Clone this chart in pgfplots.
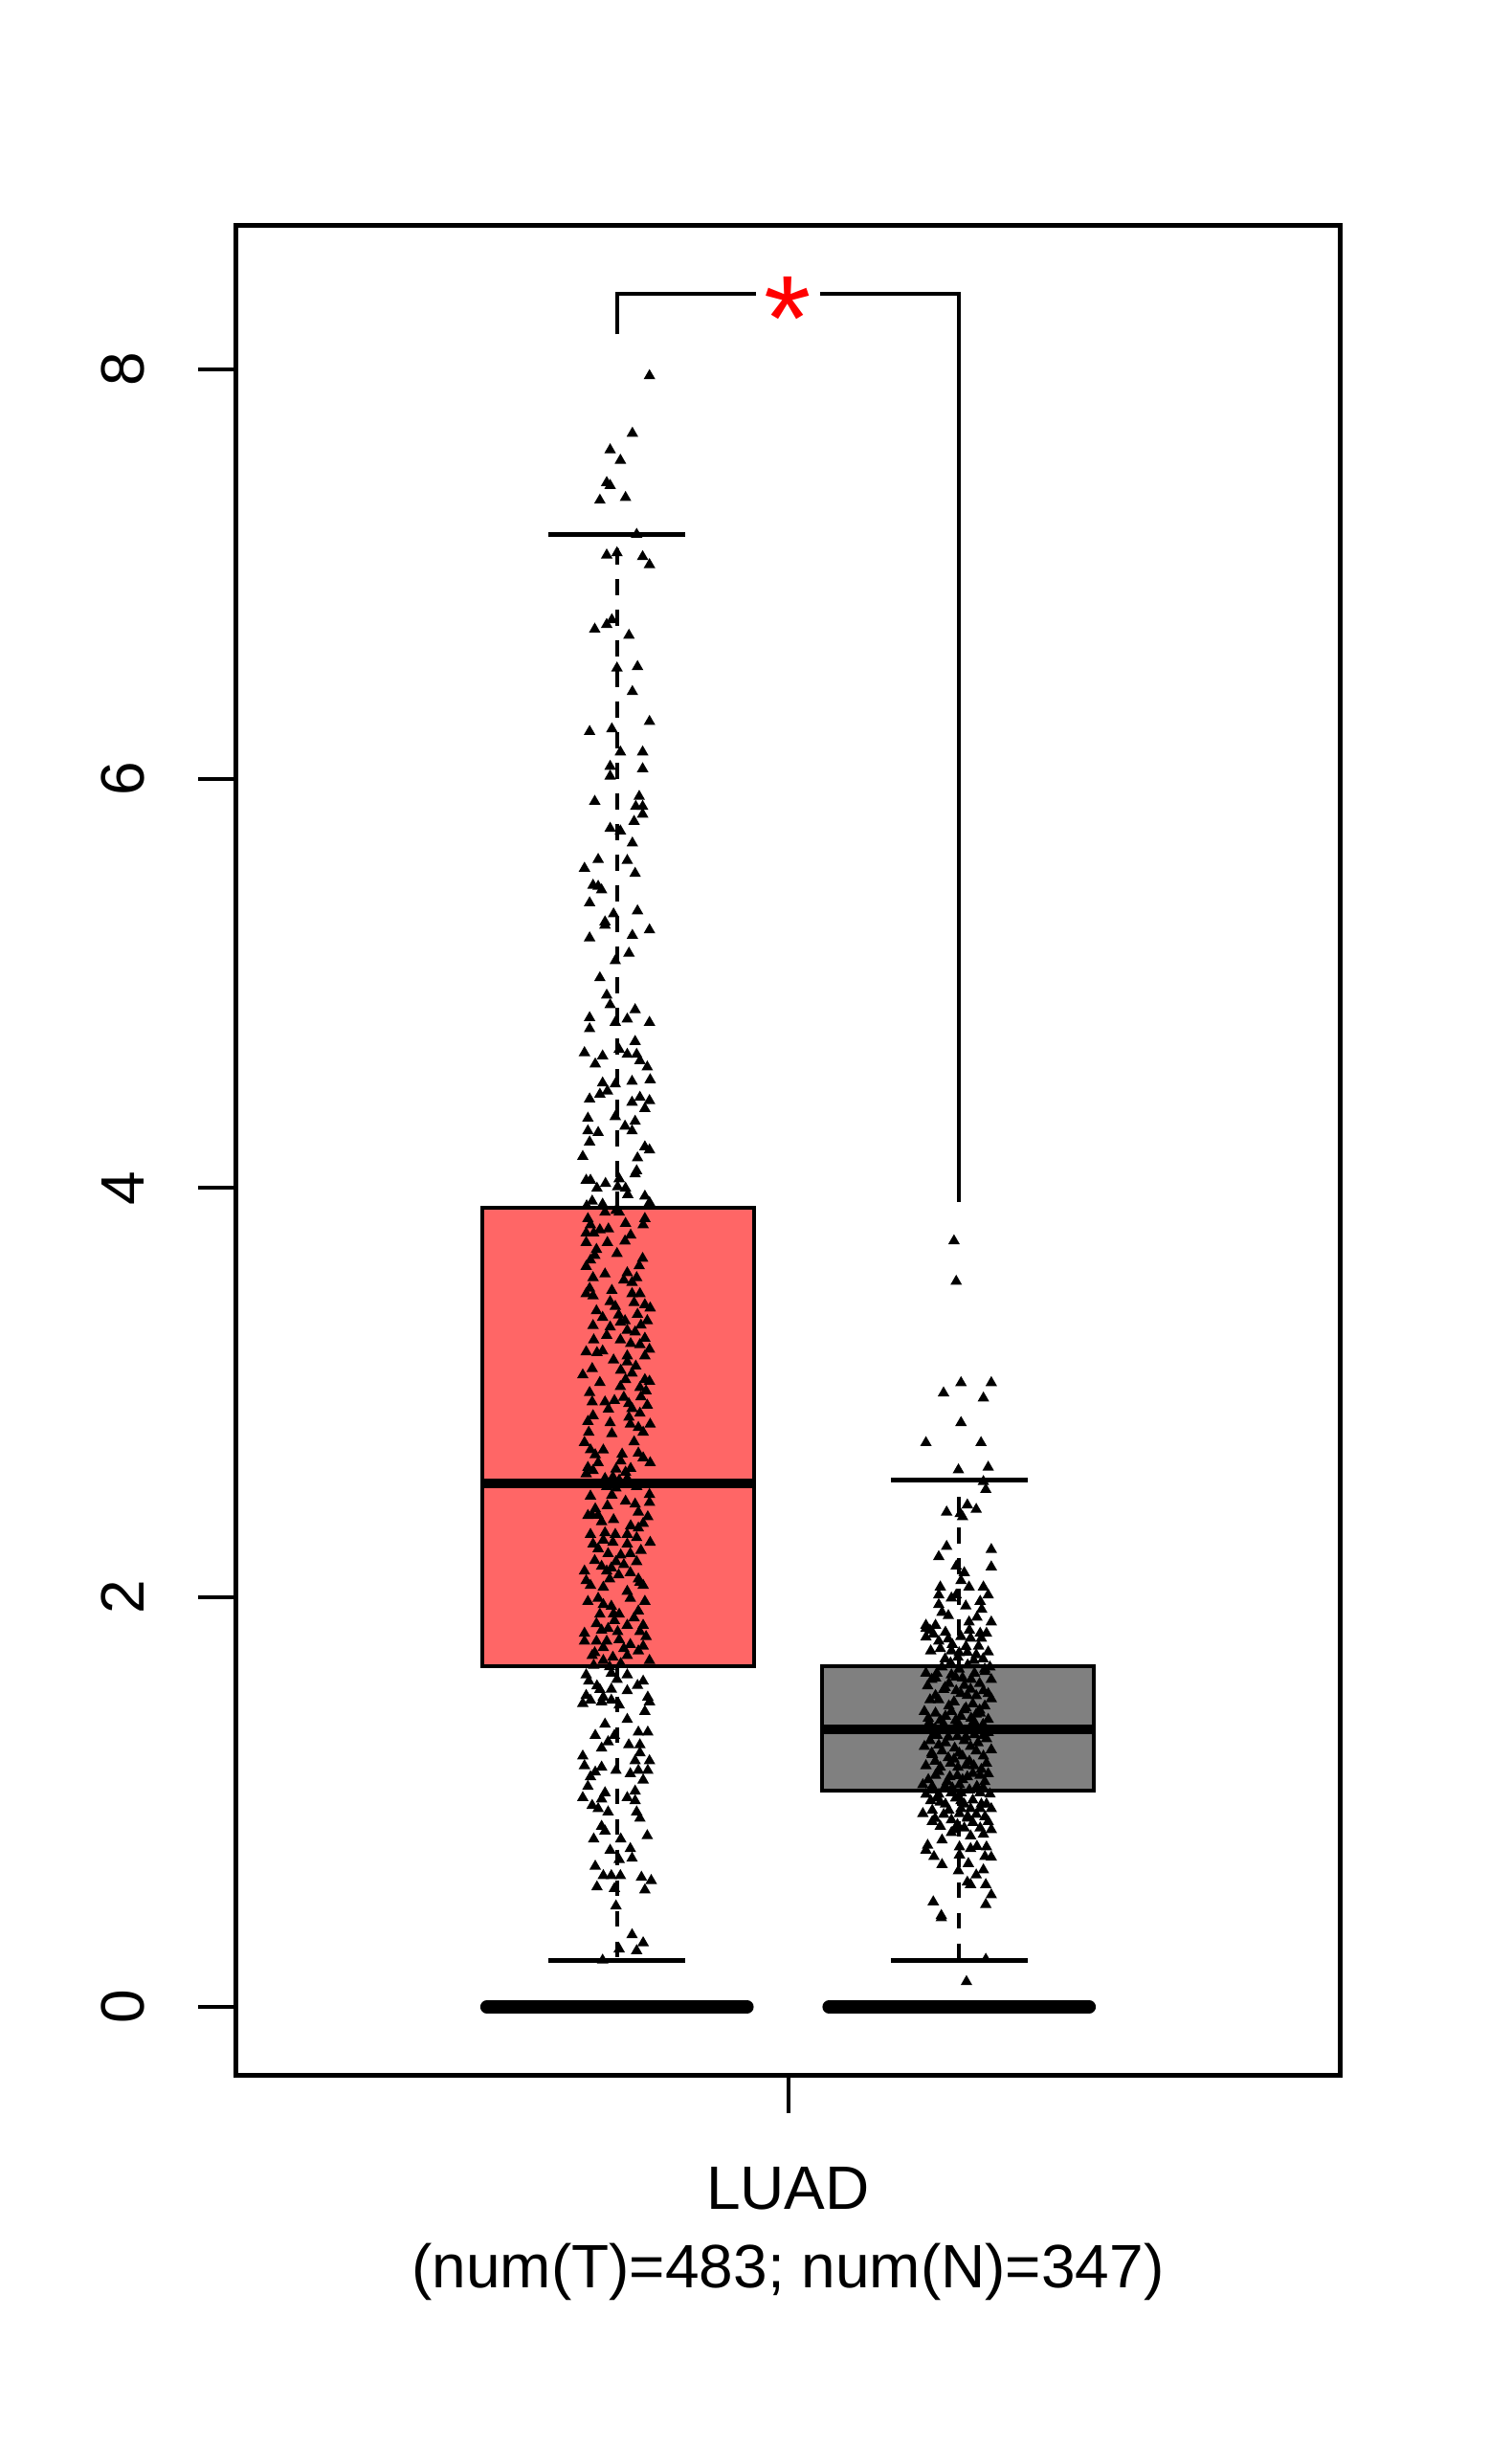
\documentclass[border=0pt]{standalone}
\usepackage{fontspec}
\setmainfont{Liberation Sans}
\usepackage{pgfplots}
\usepackage{pgfplotstable}
\pgfplotsset{compat=1.18}
\definecolor{boxred}{RGB}{255,102,102}
\definecolor{boxgray}{RGB}{128,128,128}
\pgfplotstableread{
x y
-0.81 7.968
-0.91 7.687
-1.04 7.606
-0.98 7.555
-1.06 7.446
-1.04 7.432
-1.10 7.36
-0.95 7.373
-0.885 7.193
-1.06 7.092
-1.00 7.103
-0.85 7.084
-0.81 7.045
-1.03 6.776
-1.06 6.753
-1.13 6.73
-0.93 6.70
-1.00 6.54
-0.88 6.547
-0.91 6.425
-0.81 6.279
-1.16 6.23
-1.03 6.243
-0.98 6.13
-0.85 6.13
-1.04 6.06
-0.85 6.048
-1.04 6.012
-1.13 5.889
-0.87 5.913
-0.89 5.864
-0.85 5.864
-0.85 5.826
-0.90 5.791
-1.04 5.757
-0.98 5.744
-0.91 5.685
-1.11 5.605
-0.94 5.60
-1.19 5.562
-0.894 5.537
-1.14 5.479
-1.09 5.456
-1.11 5.474
-1.16 5.393
-0.88 5.354
-1.02 5.339
-1.07 5.30
-1.07 5.284
-0.81 5.261
-0.91 5.234
-1.16 5.222
-0.93 5.147
-1.01 5.11
-1.10 5.027
-1.06 4.942
-1.04 4.895
-0.894 4.871
-1.16 4.832
-0.94 4.825
-1.01 4.809
-0.81 4.809
-1.16 4.778
-0.894 4.716
-1.19 4.661
-0.987 4.677
-0.94 4.653
-0.885 4.653
-1.084 4.645
-0.866 4.622
-1.127 4.606
-0.823 4.591
-1.084 4.513
-1.01 4.508
-0.912 4.521
-0.806 4.529
-1.16 4.435
-1.10 4.458
-1.056 4.474
-0.912 4.419
-0.866 4.443
-0.81 4.427
-0.837 4.388
-1.01 4.349
-1.17 4.341
-1.17 4.279
-1.11 4.271
-0.953 4.302
-0.894 4.326
-0.912 4.279
-1.16 4.225
-1.20 4.154
-0.837 4.201
-0.81 4.186
-0.88 4.147
-0.894 4.069
-0.885 4.084
-1.18 4.038
-1.155 4.038
-1.117 3.999
-1.067 4.022
-0.987 4.045
-0.996 4.006
-0.95 3.999
-0.937 3.968
-0.837 3.96
-0.81 3.929
-1.145 3.936
-1.177 3.913
-1.084 3.921
-1.07 3.882
-1.006 3.89
-0.987 3.882
-0.837 3.851
-0.847 3.82
-0.95 3.827
-1.155 3.82
-1.18 3.78
-1.10 3.796
-1.136 3.78
-1.056 3.734
-0.953 3.741
-1.18 3.734
-0.85 3.656
-1.13 3.671
-1.155 3.648
-1.18 3.617
-0.94 3.586
-0.885 3.562
-0.912 3.539
-1.14 3.562
-1.18 3.484
-1.14 3.473
-0.912 3.484
-0.866 3.484
-1.04 3.445
-1.01 3.422
-0.837 3.43
-0.806 3.414
-0.88 3.383
-1.084 3.368
-1.14 3.328
-1.04 3.321
-0.98 3.344
-0.953 3.352
-0.94 3.305
-0.823 3.352
-0.894 3.297
-0.837 3.266
-1.136 3.258
-0.98 3.258
-0.866 3.235
-0.81 3.212
-1.117 3.196
-1.084 3.204
-0.94 3.18
-0.837 3.18
-1.20 3.087
-1.145 3.118
-0.978 3.11
-0.94 3.15
-0.912 3.095
-0.95 3.064
-0.837 3.064
-0.81 3.056
-0.866 3.025
-0.83 3.009
-1.16 3.001
-1.145 2.955
-1.07 2.955
-1.015 2.962
-0.96 2.978
-0.931 2.947
-0.912 2.923
-0.823 2.939
-0.866 2.90
-1.14 2.888
-1.04 2.853
-0.922 2.846
-0.875 2.83
-0.806 2.846
-0.847 2.807
-1.165 2.807
-1.19 2.757
-1.155 2.721
-1.127 2.697
-0.875 2.705
-0.847 2.682
-0.806 2.658
-1.11 2.658
-1.17 2.635
-0.978 2.666
-1.006 2.627
-0.95 2.612
-1.18 2.604
-1.07 2.581
-1.024 2.588
-0.987 2.573
-0.94 2.581
-1.06 2.542
-1.006 2.534
-0.885 2.542
-1.155 2.495
-0.81 2.503
-0.81 2.464
-0.894 2.456
-1.056 2.448
-1.127 2.433
-0.875 2.417
-1.11 2.401
-1.145 2.401
-0.82 2.394
-1.09 2.37
-0.847 2.362
-0.875 2.339
-1.155 2.308
-1.07 2.316
-1.01 2.308
-0.94 2.308
-0.885 2.292
-1.14 2.261
-1.11 2.238
-1.024 2.269
-0.94 2.261
-0.806 2.269
-1.052 2.214
-0.978 2.207
-0.922 2.214
-1.006 2.175
-0.885 2.175
-1.09 2.152
-1.033 2.144
-0.96 2.16
-1.19 2.129
-1.06 2.129
-0.922 2.121
-1.18 2.082
-1.043 2.09
-0.875 2.09
-1.155 2.059
-0.847 2.059
-0.866 2.074
-1.11 1.996
-0.922 1.996
-0.837 1.981
-1.08 1.965
-1.033 1.957
-0.875 1.934
-1.10 1.918
-0.987 1.918
-1.015 1.887
-1.12 1.872
-0.94 1.864
-0.847 1.864
-1.052 1.848
-1.19 1.825
-0.866 1.833
-0.996 1.833
-0.83 1.809
-1.19 1.786
-1.12 1.786
-1.06 1.786
-0.987 1.794
-0.922 1.77
-0.847 1.762
-1.08 1.755
-0.875 1.739
-1.145 1.716
-0.94 1.716
-1.024 1.708
-1.08 1.692
-0.81 1.692
-0.978 1.677
-1.043 1.661
-1.136 1.669
-1.18 1.622
-1.033 1.63
-0.94 1.622
-1.165 1.591
-0.847 1.591
-1.117 1.568
-1.033 1.552
-0.94 1.544
-1.18 1.521
-0.82 1.513
-1.08 1.513
-1.20 1.482
-1.155 1.498
-1.09 1.49
-1.033 1.498
-0.987 1.474
-0.837 1.443
-0.81 1.49
-0.94 1.404
-1.07 1.381
-1.127 1.326
-0.875 1.342
-0.82 1.342
-1.015 1.326
-1.052 1.295
-1.09 1.264
-0.931 1.28
-0.866 1.28
-0.866 1.241
-1.20 1.225
-1.19 1.178
-1.09 1.171
-1.127 1.147
-0.894 1.202
-0.81 1.202
-1.006 1.155
-0.922 1.139
-0.875 1.155
-0.82 1.155
-0.847 1.108
-1.155 1.124
-1.17 1.077
-0.894 1.054
-1.20 1.022
-1.07 1.046
-1.09 1.015
-0.94 1.022
-1.145 0.984
-1.11 0.968
-1.052 0.952
-0.894 1.007
-0.885 0.952
-0.866 0.921
-1.09 0.882
-1.07 0.859
-1.136 0.82
-0.978 0.82
-0.823 0.836
-1.04 0.765
-0.922 0.773
-0.912 0.726
-0.987 0.719
-1.127 0.687
-1.08 0.641
-1.033 0.641
-0.98 0.641
-0.857 0.633
-0.80 0.617
-1.117 0.586
-1.015 0.578
-0.837 0.571
-1.006 0.493
-0.912 0.352
-0.847 0.313
-0.885 0.274
-0.987 0.282
-1.084 0.228
-1.17 3.85
-1.05 3.80
-0.92 3.77
-1.12 3.70
-1.00 3.68
-0.87 3.62
-1.07 3.58
-0.96 3.55
-1.16 3.51
-1.03 3.50
-0.90 3.44
-1.12 3.40
-0.99 3.38
-0.86 3.33
-1.06 3.28
-0.92 3.24
-1.18 3.20
-1.02 3.16
-0.89 3.13
-1.10 3.05
-0.98 3.03
-0.86 2.98
-1.05 2.92
-0.93 2.88
-1.17 2.86
-1.03 2.80
-0.90 2.76
-1.08 2.72
-0.97 2.70
-1.14 2.62
-0.92 2.63
-1.03 2.50
-0.95 2.47
-1.17 2.40
-1.02 2.38
-0.92 2.35
-1.08 2.28
-0.86 2.23
-1.13 2.18
-0.99 2.11
-1.08 2.05
-0.94 2.03
-1.17 1.98
-1.02 1.92
-0.90 1.90
-1.09 1.84
-0.96 1.75
-1.13 1.73
-1.00 1.60
-0.88 1.57
-1.10 1.55
}\redpts
\pgfplotstableread{
x y
0.97 3.742
0.983 3.544
1.011 3.049
1.188 3.049
0.909 2.999
1.142 2.974
1.011 2.854
0.806 2.756
1.128 2.756
0.996 2.623
1.17 2.636
1.142 2.566
1.156 2.527
0.927 2.417
1.048 2.452
1.10 2.43
1.02 2.394
1.007 2.41
0.927 2.249
0.881 2.199
1.188 2.234
0.983 2.153
1.188 2.149
1.03 2.121
1.011 2.082
1.058 2.051
0.89 2.051
1.142 2.051
0.881 2.012
0.983 2.012
1.17 2.012
0.955 1.997
0.881 1.965
1.039 1.958
1.123 1.981
0.90 1.927
1.132 1.942
0.937 1.911
1.104 1.903
0.806 1.864
0.862 1.864
1.058 1.88
1.188 1.88
0.806 1.848
0.806 1.806
0.881 1.786
0.937 1.797
1.011 1.809
1.067 1.801
1.123 1.825
1.16 1.825
0.834 1.739
0.955 1.739
1.048 1.731
1.17 1.734
1.114 1.762
0.918 1.70
0.993 1.708
1.086 1.692
0.806 1.63
0.862 1.607
0.955 1.622
1.02 1.607
1.151 1.638
1.188 1.599
0.816 1.568
0.918 1.56
0.983 1.544
1.067 1.552
1.142 1.544
0.862 1.521
1.048 1.521
1.188 1.505
0.797 1.443
0.862 1.435
0.955 1.443
1.03 1.451
1.123 1.435
1.17 1.404
0.825 1.388
0.909 1.381
0.993 1.388
1.086 1.396
0.872 1.326
0.937 1.318
1.039 1.318
1.142 1.326
0.797 1.272
0.881 1.279
0.974 1.264
1.067 1.272
1.188 1.256
0.843 1.233
0.937 1.217
1.02 1.225
1.142 1.225
0.806 1.178
0.89 1.17
0.993 1.17
1.086 1.178
1.17 1.139
0.862 1.131
0.946 1.124
1.048 1.124
1.123 1.131
0.788 1.085
0.843 1.077
0.918 1.077
1.002 1.085
1.104 1.077
0.806 1.038
0.881 1.038
0.955 1.046
1.011 1.046
1.123 1.046
0.834 1.007
1.011 1.007
1.16 0.991
0.843 0.96
1.011 0.968
1.067 0.968
1.123 0.968
1.188 0.968
0.788 0.944
1.002 0.944
1.151 0.929
0.843 0.905
0.955 0.913
1.048 0.921
1.17 0.905
0.89 0.882
0.974 0.866
1.03 0.874
1.123 0.874
1.188 0.866
0.955 0.851
1.067 0.835
1.142 0.843
0.90 0.815
0.816 0.789
0.806 0.765
1.002 0.781
1.067 0.773
1.104 0.784
1.16 0.781
0.853 0.734
1.002 0.742
1.151 0.734
1.188 0.731
0.90 0.695
1.054 0.70
0.996 0.664
1.142 0.669
1.10 0.644
1.048 0.609
1.067 0.597
1.156 0.597
1.188 0.547
0.849 0.513
1.156 0.50
0.896 0.446
0.896 0.435
1.156 0.232
1.043 0.123
0.85 1.82
0.96 1.77
1.04 1.76
1.14 1.70
0.90 1.66
1.00 1.65
1.09 1.63
1.18 1.66
0.84 1.60
0.94 1.58
1.03 1.57
1.12 1.58
0.88 1.50
0.97 1.49
1.08 1.48
1.15 1.47
0.82 1.41
0.92 1.42
1.01 1.42
1.10 1.43
0.86 1.36
0.96 1.35
1.06 1.35
1.17 1.34
0.83 1.30
0.92 1.29
1.03 1.30
1.11 1.29
0.86 1.20
0.97 1.21
1.06 1.20
1.16 1.19
0.82 1.11
0.93 1.10
1.02 1.11
1.15 1.10
0.87 1.02
0.98 1.02
1.08 1.01
0.92 0.99
1.10 0.94
0.91 0.94
1.18 1.04
1.08 0.90
0.83 1.84
0.92 1.83
1.06 1.84
1.13 1.80
0.89 1.75
1.00 1.73
1.10 1.72
0.95 1.68
1.05 1.67
1.15 1.65
0.87 1.63
0.98 1.61
1.07 1.60
0.91 1.55
1.01 1.53
1.10 1.52
1.17 1.53
0.83 1.50
0.94 1.47
1.04 1.46
1.12 1.45
0.89 1.40
0.98 1.40
1.07 1.41
1.14 1.38
0.85 1.33
0.99 1.32
1.09 1.33
1.16 1.31
0.90 1.25
1.00 1.24
1.10 1.25
0.84 1.24
0.95 1.19
1.04 1.18
1.13 1.16
0.88 1.15
0.99 1.13
1.08 1.14
0.85 1.06
0.96 1.07
1.06 1.06
1.14 1.07
0.89 1.00
1.03 0.99
1.13 0.99
0.94 0.96
1.05 0.93
0.86 0.92
0.99 0.89
}\graypts
\begin{document}
\begin{tikzpicture}
\path[use as bounding box] (-37.05pt,-58.8pt) rectangle (199.8pt,325.2pt);
\begin{axis}[
  at={(0pt,0pt)}, anchor=south west,
  scale only axis, width=172.95pt, height=289.95pt,
  xmin=-3.225, xmax=3.225, ymin=-0.332, ymax=8.705,
  axis line style={line width=0.75pt, black},
  tick align=outside, major tick length=6pt,
  tick style={line width=0.6pt, black},
  xtick pos=left, ytick pos=left,
  xtick={0}, xticklabels={{LUAD\\(num(T)=483; num(N)=347)}},
  ytick={0,2,4,6,8}, yticklabels={0,2,4,6,8},
  ticklabel style={font=\fontsize{9.6}{12.3}\selectfont},
  yticklabel style={rotate=90, anchor=south},
  xticklabel style={align=center, anchor=north},
  yticklabel shift=4.9pt,
  xticklabel shift=5pt,
]
% boxes
\addplot[draw=black, fill=boxred, line width=0.6pt] coordinates {(-1.79,1.666) (-0.2,1.666) (-0.2,3.905) (-1.79,3.905)} -- cycle;
\addplot[draw=black, fill=boxgray, line width=0.6pt] coordinates {(0.2,1.058) (1.79,1.058) (1.79,1.666) (0.2,1.666)} -- cycle;
% whiskers
\addplot[black, line width=0.6pt, dash pattern=on 2.5pt off 2.3pt] coordinates {(-1,3.905) (-1,7.195)};
\addplot[black, line width=0.6pt, dash pattern=on 2.5pt off 2.3pt] coordinates {(-1,1.666) (-1,0.228)};
\addplot[black, line width=0.6pt, dash pattern=on 2.5pt off 2.3pt] coordinates {(1,1.666) (1,2.573)};
\addplot[black, line width=0.6pt, dash pattern=on 2.5pt off 2.3pt] coordinates {(1,1.058) (1,0.228)};
% caps
\addplot[black, line width=0.75pt] coordinates {(-1.4,7.195) (-0.6,7.195)};
\addplot[black, line width=0.75pt] coordinates {(-1.4,0.228) (-0.6,0.228)};
\addplot[black, line width=0.75pt] coordinates {(0.6,2.573) (1.4,2.573)};
\addplot[black, line width=0.75pt] coordinates {(0.6,0.228) (1.4,0.228)};
% medians
\addplot[black, line width=1.5pt] coordinates {(-1.79,2.557) (-0.2,2.557)};
\addplot[black, line width=1.5pt] coordinates {(0.2,1.354) (1.79,1.354)};
% points
\addplot[only marks, mark=triangle*, mark size=0.65pt, black] table {\redpts};
\addplot[only marks, mark=triangle*, mark size=0.65pt, black] table {\graypts};
% zero values
\addplot[black, line width=2.1pt, line cap=round] coordinates {(-1.76,0) (-0.24,0)};
\addplot[black, line width=2.1pt, line cap=round] coordinates {(0.24,0) (1.76,0)};
% significance bracket
\addplot[black, line width=0.6pt] coordinates {(-1,8.17) (-1,8.37) (-0.19,8.37)};
\addplot[black, line width=0.6pt] coordinates {(0.19,8.37) (1,8.37) (1,3.93)};
\node[text=red, font=\fontsize{19}{19}\selectfont, anchor=north, inner sep=0pt] at (axis cs:0,8.457) {*};
\end{axis}
\end{tikzpicture}
\end{document}
